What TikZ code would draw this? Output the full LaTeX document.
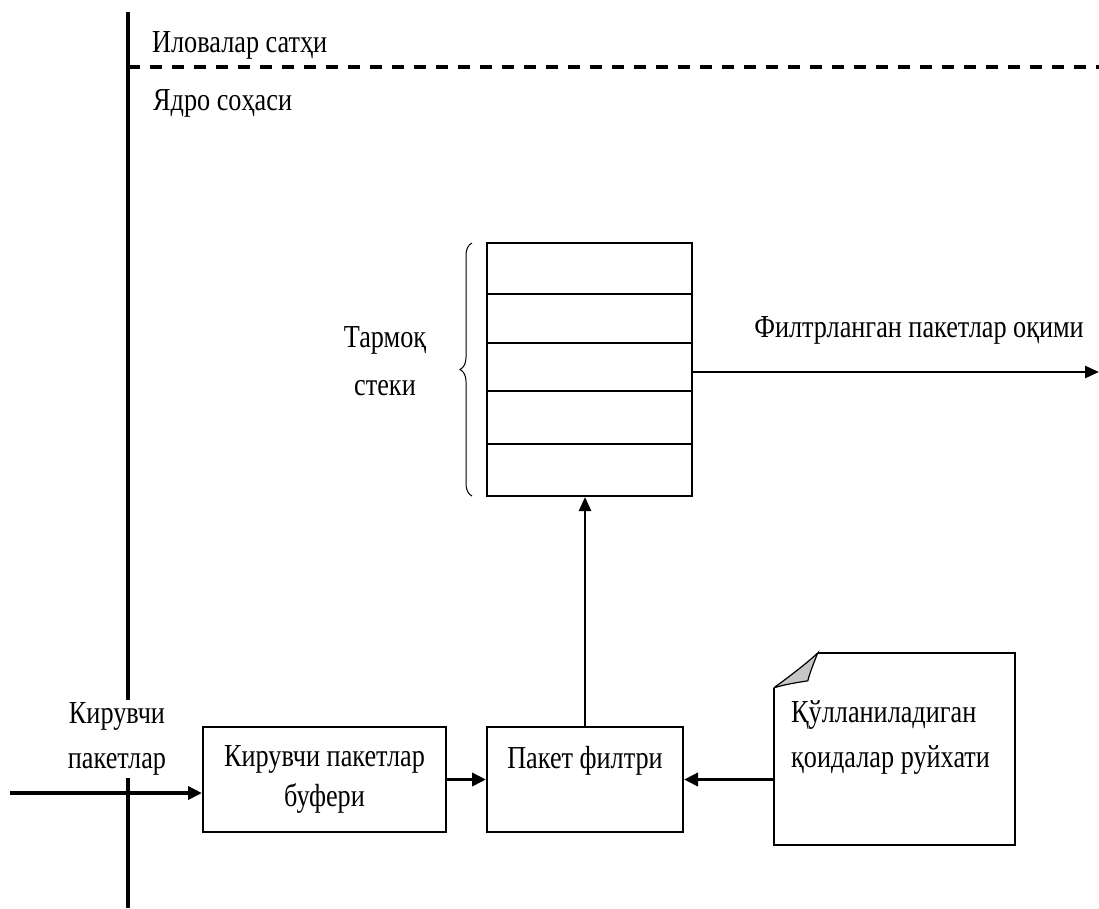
\documentclass[tikz,border=0pt]{standalone}
\usepackage{fontspec}
\setmainfont{Liberation Serif}[FakeStretch=0.82]
\usetikzlibrary{arrows.meta,decorations.pathreplacing,calc}
\begin{document}
\begin{tikzpicture}[x=1pt,y=-1pt,
  every node/.style={font=\fontsize{32}{42}\selectfont, inner sep=0pt},
  box/.style={draw, line width=2pt},
  arr/.style={line width=2.5pt, -{Triangle[length=14pt,width=12pt]}},
  thickarr/.style={line width=3.5pt, -{Triangle[length=14pt,width=13pt]}}]
\fill[white] (0,0) rectangle (1099,908);
\useasboundingbox (0,0) rectangle (1099,908);

% boundary lines
\draw[line width=3.2pt] (128,12) -- (128,908);
\draw[line width=3.8pt, dash pattern=on 12pt off 10pt] (128,67) -- (1099,67);

\node[anchor=base west] (app) at (152,52) {Иловалар сатҳи};
\node[anchor=base west] (kern) at (153,110) {Ядро соҳаси};

% network stack
\node[box, minimum width=205pt, minimum height=253pt] (stack) at (589.5,369.5) {};
\foreach \yy in {294,343,391,444}
  \draw[line width=2pt] (stack.west |- 0,\yy) -- (stack.east |- 0,\yy);
\draw[decorate, decoration={brace, amplitude=12pt}, line width=1pt] (472,496) -- (472,243);
\node[align=center, font=\fontsize{32}{48}\selectfont] (stacklabel) at (385,361) {Тармоқ\\стеки};

% output
\coordinate (out) at (1099,372);
\draw[arr] (stack.east |- out) -- (out);
\node[anchor=base] (outlabel) at (919,337) {Филтрланган пакетлар оқими};

% bottom row
\node[box, minimum width=243pt, minimum height=105pt, align=center,
      font=\fontsize{32}{40}\selectfont] (buffer) at (324.5,779.5) {Кирувчи пакетлар\\буфери};
\node[box, minimum width=196pt, minimum height=105pt, text height=22pt, text depth=45pt]
      (filter) at (585,779.5) {Пакет филтри};
\node[minimum width=241pt, minimum height=192pt] (rules) at (894.5,749) {};
\draw[line width=1.8pt] ($(rules.north west)+(44,0)$) -- (rules.north east) -- (rules.south east)
  -- (rules.south west) -- ($(rules.north west)+(0,35)$);
\filldraw[fill=gray!45, line width=1.2pt] ($(rules.north west)+(0,35)$)
  .. controls +(14,-10) and +(-8,8) .. ($(rules.north west)+(44,0)$)
  .. controls +(-4,10) and +(2,-8) .. ($(rules.north west)+(34,28)$)
  .. controls +(-12,2) and +(14,-4) .. ($(rules.north west)+(0,35)$);
\node[anchor=base west, align=left, font=\fontsize{32}{45}\selectfont] (rulestext) at (791,767)
  {Қўлланиладиган\\қоидалар руйхати};

\node[align=center, fill=white, inner sep=3pt, font=\fontsize{32}{45}\selectfont] (inlabel) at (117,739)
  {Кирувчи\\пакетлар};

% connectors
\coordinate (src) at (10,793);
\draw[thickarr] (src) -- (src -| buffer.west);
\draw[thickarr] (buffer.east) -- (filter.west);
\draw[thickarr] (filter.east -| rules.west) -- (filter.east);
\draw[arr] (filter.north) -- (filter.north |- stack.south);
\end{tikzpicture}
\end{document}
